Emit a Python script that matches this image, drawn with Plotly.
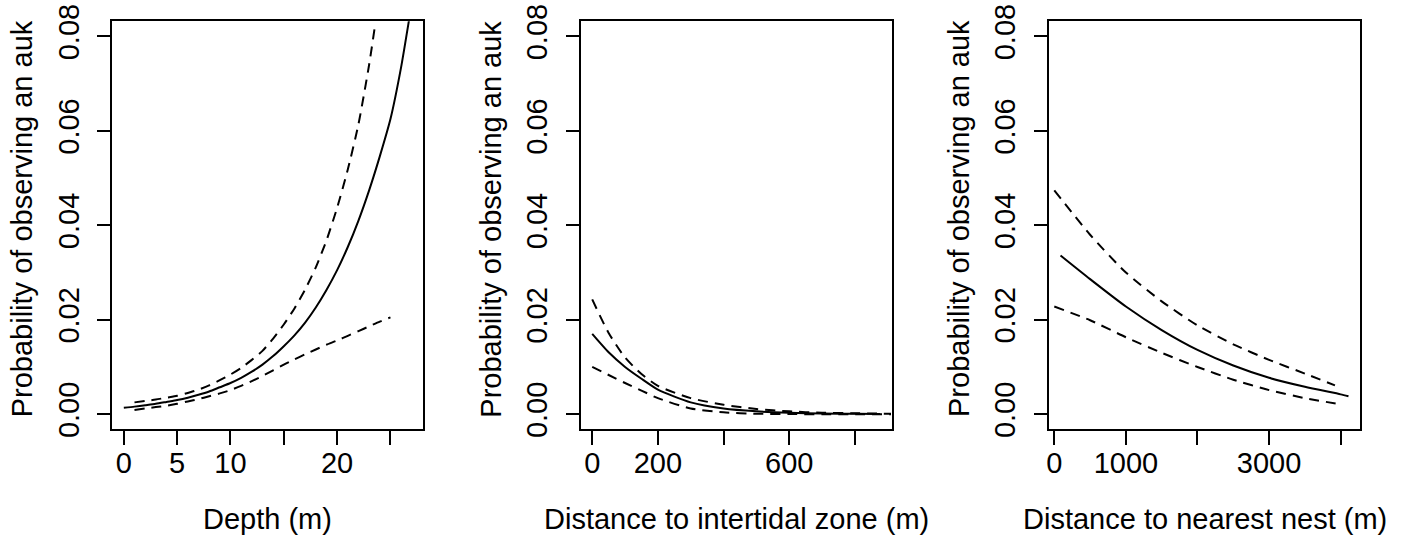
import plotly.graph_objects as go

# ---------------- data ----------------
depth_solid_x = list(range(0, 29))
depth_solid_y = [0.00137, 0.0016, 0.0019, 0.0022, 0.0026, 0.0030, 0.0035, 0.0041, 0.0048, 0.0057,
                 0.0066, 0.0077, 0.0090, 0.0105, 0.0123, 0.0144, 0.0167, 0.0194, 0.0226, 0.0263,
                 0.0305, 0.0354, 0.0410, 0.0474, 0.0546, 0.0625, 0.0735, 0.0870, 0.1000]
depth_upper_x = [1, 2, 3, 4, 5, 6, 7, 8, 9, 10, 11, 12, 13, 14, 15, 16, 17, 18, 19, 20, 21, 22, 23, 23.5]
depth_upper_y = [0.0025, 0.0028, 0.0031, 0.0035, 0.0039, 0.0045, 0.0052, 0.0061, 0.0072, 0.0084,
                 0.0098, 0.0115, 0.0134, 0.0160, 0.0190, 0.0224, 0.0264, 0.0311, 0.0368, 0.0437,
                 0.0518, 0.0614, 0.0740, 0.0815]
depth_lower_x = list(range(1, 26))
depth_lower_y = [0.0009, 0.0012, 0.0015, 0.0018, 0.0022, 0.0027, 0.0032, 0.0038, 0.0044, 0.0051,
                 0.0060, 0.0070, 0.0081, 0.0093, 0.0105, 0.0116, 0.0127, 0.0137, 0.0147, 0.0156,
                 0.0166, 0.0176, 0.0186, 0.0196, 0.0205]

inter_x = [0, 50, 100, 150, 200, 300, 400, 500, 600, 700, 800, 877]
inter_solid_y = [0.0170, 0.0131, 0.0100, 0.0075, 0.0052, 0.0025, 0.0012, 0.0006, 0.0003, 0.00015, 0.00008, 0.00005]
inter_upper_x = [0, 50, 100, 150, 200, 300, 400, 500, 600, 700, 800, 910]
inter_upper_y = [0.0243, 0.0172, 0.0120, 0.0085, 0.0060, 0.0034, 0.0020, 0.0011, 0.0006, 0.0003, 0.0002, 0.0001]
inter_lower_x = [0, 50, 100, 150, 200, 300, 400, 500, 600, 700, 800, 910]
inter_lower_y = [0.0100, 0.0083, 0.0066, 0.0050, 0.0034, 0.0012, 0.0004, 0.0001, 0.00003, 0.0, 0.0, 0.0]

nest_solid_x = [87, 500, 1000, 1500, 2000, 2500, 3000, 3500, 4000, 4109]
nest_solid_y = [0.0336, 0.0286, 0.0228, 0.0178, 0.0136, 0.0103, 0.0077, 0.0058, 0.0042, 0.0038]
nest_upper_x = [0, 500, 1000, 1500, 2000, 2500, 3000, 3500, 3920]
nest_upper_y = [0.0474, 0.0380, 0.0300, 0.0239, 0.0188, 0.0148, 0.0115, 0.0086, 0.0061]
nest_lower_x = [0, 500, 1000, 1500, 2000, 2500, 3000, 3500, 3990]
nest_lower_y = [0.0228, 0.0199, 0.0163, 0.0130, 0.0100, 0.0073, 0.0051, 0.0034, 0.0021]

y_tickvals = [0, 0.02, 0.04, 0.06, 0.08]
y_ticktext = ["0.00", "0.02", "0.04", "0.06", "0.08"]
x1_tickvals = [0, 5, 10, 15, 20, 25]
x1_ticktext = ["0", "5", "10", "", "20", ""]
x2_tickvals = [0, 200, 400, 600, 800]
x2_ticktext = ["0", "200", "", "600", ""]
x3_tickvals = [0, 1000, 2000, 3000, 4000]
x3_ticktext = ["0", "1000", "", "3000", ""]

x_titles = ["Depth (m)", "Distance to intertidal zone (m)", "Distance to nearest nest (m)"]
y_title = "Probability of observing an auk"

# ---------------- layout geometry ----------------
W, H = 1401, 535
FONT = "Liberation Sans, Arial, Helvetica, sans-serif"
FS = 29
box_left = [112.3, 580.7, 1049.0]
box_w = 311.0
box_top, box_bot = 21.3, 429.3
ydom = [1 - box_bot / H, 1 - box_top / H]

x_ranges = [[-1.08, 28.08], [-35.08, 912.08], [-73.9, 4269.9]]
y_range = [-0.0032, 0.0832]

fig = go.Figure()

series = [
    (depth_solid_x, depth_solid_y, depth_upper_x, depth_upper_y, depth_lower_x, depth_lower_y),
    (inter_x, inter_solid_y, inter_upper_x, inter_upper_y, inter_lower_x, inter_lower_y),
    (nest_solid_x, nest_solid_y, nest_upper_x, nest_upper_y, nest_lower_x, nest_lower_y),
]

for i, (sx, sy, ux, uy, lx, ly) in enumerate(series):
    xa = "x" if i == 0 else f"x{i+1}"
    ya = "y" if i == 0 else f"y{i+1}"
    fig.add_trace(go.Scatter(x=sx, y=sy, mode="lines", xaxis=xa, yaxis=ya,
                             line=dict(color="black", width=2, shape="spline", smoothing=0.6),
                             showlegend=False, hoverinfo="skip"))
    for (dx, dy) in [(ux, uy), (lx, ly)]:
        fig.add_trace(go.Scatter(x=dx, y=dy, mode="lines", xaxis=xa, yaxis=ya,
                                 line=dict(color="black", width=2, dash="10px,7px",
                                           shape="spline", smoothing=0.6),
                                 showlegend=False, hoverinfo="skip"))

x_ticks = [(x1_tickvals, x1_ticktext), (x2_tickvals, x2_ticktext), (x3_tickvals, x3_ticktext)]
layout = dict(
    width=W, height=H,
    margin=dict(l=0, r=0, t=0, b=0, autoexpand=False),
    paper_bgcolor="white", plot_bgcolor="white",
    font=dict(family=FONT, size=FS, color="black"),
    showlegend=False,
)
annotations = []
for i in range(3):
    sfx = "" if i == 0 else str(i + 1)
    xd = [box_left[i] / W, (box_left[i] + box_w) / W]
    layout["xaxis" + sfx] = dict(
        domain=xd, range=x_ranges[i], anchor="y" + sfx, automargin=False,
        tickvals=x_ticks[i][0], ticktext=x_ticks[i][1],
        ticks="outside", ticklen=14, tickwidth=2, tickcolor="black",
        showline=True, linewidth=2, linecolor="black", mirror=True,
        showgrid=False, zeroline=False, tickangle=0,
        tickfont=dict(family=FONT, size=FS, color="black"),
        ticklabelstandoff=-7, ticklabeloverflow="allow",
    )
    layout["yaxis" + sfx] = dict(
        domain=ydom, range=y_range, anchor="x" + sfx, automargin=False,
        tickvals=y_tickvals, ticktext=y_ticktext, tickangle=-90,
        ticks="outside", ticklen=13, tickwidth=2, tickcolor="black",
        showline=True, linewidth=2, linecolor="black", mirror=True,
        showgrid=False, zeroline=False,
        tickfont=dict(family=FONT, size=FS, color="black"),
        ticklabelstandoff=7, ticklabeloverflow="allow",
    )
    cx = (box_left[i] + box_w / 2) / W
    annotations.append(dict(text=x_titles[i], x=cx, y=1 - 519 / H, xref="paper", yref="paper",
                            xanchor="center", yanchor="middle", showarrow=False,
                            font=dict(family=FONT, size=FS, color="black")))
    annotations.append(dict(text=y_title, x=(box_left[i] - 90) / W, y=1 - 219 / H,
                            xref="paper", yref="paper", textangle=-90,
                            xanchor="center", yanchor="middle", showarrow=False,
                            font=dict(family=FONT, size=FS, color="black")))
layout["annotations"] = annotations
fig.update_layout(**layout)

# remove the browser's default 8px page margin so the figure fills the window exactly
fig.write_html("out.html", config={"displayModeBar": False},
               post_script="document.body.style.margin='0';document.body.style.overflow='hidden';")
